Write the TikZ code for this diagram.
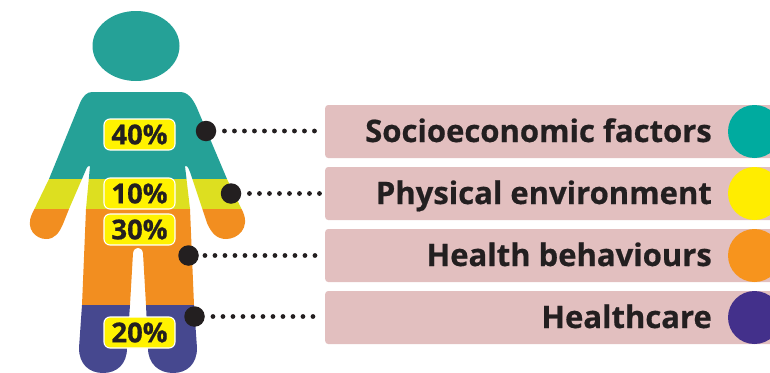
\documentclass[tikz,border=0pt]{standalone}
\usepackage{fontspec}
\setmainfont[BoldFeatures={FakeBold=0.6}]{Open Sans}
\definecolor{inkc}{HTML}{231F20}
\definecolor{bodyteal}{HTML}{25A197}
\definecolor{bodylime}{HTML}{DDDF20}
\definecolor{bodyorange}{HTML}{F28E20}
\definecolor{bodyblue}{HTML}{46488F}
\definecolor{keyteal}{HTML}{00AB9F}
\definecolor{keyyellow}{HTML}{FFED00}
\definecolor{keyorange}{HTML}{F7941D}
\definecolor{keypurple}{HTML}{43308B}
\definecolor{boxpink}{HTML}{E2BFBF}
\definecolor{badgeyellow}{HTML}{FFF200}
\tikzset{
  x=1pt,y=-1pt,
  badge/.style={draw=white,line width=1.1pt,fill=badgeyellow,rounded corners=6pt,minimum width=71pt,minimum height=31pt,inner sep=0pt,text=inkc,font=\fontsize{27.5}{29}\selectfont\bfseries},
  bigdot/.style={circle,fill=inkc,minimum size=20.5pt,inner sep=0pt},
  keybox/.style={fill=boxpink,rounded corners=3pt,minimum width=450pt,minimum height=53pt,inner sep=0pt,anchor=west},
  keydisc/.style={circle,minimum size=53pt,inner sep=0pt},
  keytext/.style={anchor=base east,inner sep=0pt,text=inkc,font=\fontsize{31}{33}\selectfont\bfseries},
  leader/.style={inkc,line width=4.8pt,line cap=round,dash pattern=on 0pt off 10pt},
}
\begin{document}
\begin{tikzpicture}
\useasboundingbox (0,0) rectangle (770,372);
\clip (0,0) rectangle (770,372);
% head
\fill[bodyteal] (136,46) ellipse [x radius=43.5,y radius=35];
% body bands, clipped to the silhouette
\begin{scope}
\clip (92,92) -- (180,92)
  .. controls (188,92) and (193,99) .. (197,108)
  -- (227,179) -- (243,212)
  .. controls (250,228) and (238,239) .. (226,239)
  .. controls (216,239) and (211,232) .. (207,223)
  -- (190,172) .. controls (188,166) and (186,165) .. (185,166)
  -- (190,209) -- (194,305) -- (197,348)
  .. controls (197,364) and (187,373) .. (173,373)
  .. controls (159,373) and (148,364) .. (148,348)
  -- (146,305) -- (143,253)
  .. controls (142,246) and (134,246) .. (133,253)
  -- (130,305) -- (127,348)
  .. controls (127,364) and (117,373) .. (103,373)
  .. controls (89,373) and (79,364) .. (79,348)
  -- (82,305) -- (86,209) -- (90,166)
  .. controls (89,165) and (87,166) .. (85,172)
  -- (69,209) -- (63,224)
  .. controls (59,233) and (55,239) .. (46,239)
  .. controls (36,239) and (25,229) .. (32,214)
  -- (49,179) -- (80,103)
  .. controls (83,96) and (87,92) .. (92,92) -- cycle;
\fill[bodyteal] (0,85) rectangle (260,179);
\fill[bodylime] (0,179) rectangle (260,209);
\fill[bodyorange] (0,209) rectangle (260,305);
\fill[bodyblue] (0,305) rectangle (260,375);
\end{scope}
% badges
\node[badge] (b40) at (139.5,134.5) {40\%};
\node[badge] (b10) at (139.5,193.5) {10\%};
\node[badge] (b30) at (139.5,229.5) {30\%};
\node[badge] (b20) at (139.5,332.5) {20\%};
% key boxes
\node[keybox] (k1) at (325,131.5) {};
\node[keybox] (k2) at (325,193.5) {};
\node[keybox] (k3) at (325,255.5) {};
\node[keybox] (k4) at (325,317.5) {};
\node[keydisc,fill=keyteal] (c1) at (754.5,131.5) {};
\node[keydisc,fill=keyyellow] (c2) at (754.5,193.5) {};
\node[keydisc,fill=keyorange] (c3) at (754.5,255.5) {};
\node[keydisc,fill=keypurple] (c4) at (754.5,317.5) {};
\node[keytext] (t1) at (712,142) {Socioeconomic factors};
\node[keytext] (t2) at (712,204) {Physical environment};
\node[keytext] (t3) at (712,266) {Health behaviours};
\node[keytext] (t4) at (712,328) {Healthcare};
% big dots and leaders
\node[bigdot] (d1) at (206,131) {};
\node[bigdot] (d2) at (231,193.5) {};
\node[bigdot] (d3) at (188.5,255.5) {};
\node[bigdot] (d4) at (194.5,316.5) {};
\draw[leader,shorten >=4pt,shorten <=8pt] (d1.east) -- (k1.west |- d1.east);
\draw[leader,shorten >=4pt,shorten <=8pt] (d2.east) -- (k2.west |- d2.east);
\draw[leader,shorten >=4pt,shorten <=6pt] (d3.east) -- (k3.west |- d3.east);
\draw[leader,shorten >=4pt,shorten <=8pt] (d4.east) -- (k4.west |- d4.east);
\end{tikzpicture}
\end{document}
